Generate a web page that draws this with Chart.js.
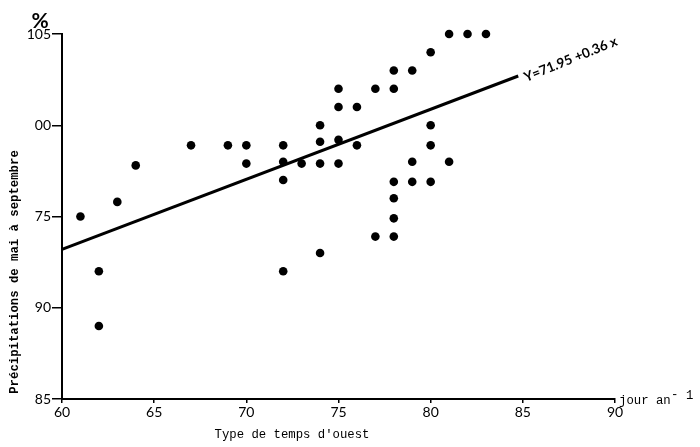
<!DOCTYPE html>
<html>
<head>
<meta charset="utf-8">
<script src="https://cdn.jsdelivr.net/npm/chart.js@4.4.0/dist/chart.umd.min.js"></script>
<style>
  html, body { margin: 0; padding: 0; background: #fff; }
</style>
</head>
<body>
<canvas id="scatterChart" width="700" height="447"></canvas>
<script>
// jours de type de temps d'ouest (x) et précipitations mai-septembre en % (y)
const westDays = [61, 62, 62, 63, 64, 67, 69, 70, 70, 72, 72, 72, 72, 73, 74, 74, 74, 74,
  75, 75, 75, 75, 76, 76, 77, 77, 78, 78, 78, 78, 78, 78, 79, 79, 79, 80, 80, 80, 80, 81, 81, 82, 83];
const rainPct = [95, 92, 89, 95.8, 97.8, 98.9, 98.9, 98.9, 97.9, 98.9, 98, 97, 92, 97.9, 100, 99.1, 97.9, 93,
  102, 101, 99.2, 97.9, 101, 98.9, 102, 93.9, 103, 102, 96.9, 96, 94.9, 93.9, 103, 98, 96.9, 104, 100, 98.9, 96.9, 105, 98, 105, 105];

// droite de régression
const fitX = [60, 84.75];
const fitY = [93.2, 102.7];
const equationText = 'Y=71.95 +0.36 x';

const yTickValues = [85, 90, 95, 100, 105];
const yTickLabels = ['85', '90', '75', '00', '105']; // comme imprimé
const xTickValues = [60, 65, 70, 75, 80, 85, 90];

const monoFont = '"Liberation Mono", "DejaVu Sans Mono", monospace';

const textPlugin = {
  id: 'textPlugin',
  afterDraw(chart) {
    const ctx = chart.ctx;
    const xs = chart.scales.x;
    const ys = chart.scales.y;
    ctx.save();
    ctx.fillStyle = '#000';

    // symbole %
    ctx.font = 'bold 21px Lato, sans-serif';
    ctx.textAlign = 'center';
    ctx.textBaseline = 'alphabetic';
    ctx.fillText('%', 40, 28);

    // titre axe y
    ctx.save();
    ctx.translate(15, 272);
    ctx.rotate(-Math.PI / 2);
    ctx.font = 'bold 12.3px ' + monoFont;
    ctx.textAlign = 'center';
    ctx.textBaseline = 'middle';
    ctx.fillText('Précipitations de mai à septembre', 0, 0);
    ctx.restore();

    // titre axe x
    ctx.font = '12.3px ' + monoFont;
    ctx.textAlign = 'center';
    ctx.textBaseline = 'middle';
    ctx.fillText("Type de temps d'ouest", 292, 435);

    // unité
    ctx.textAlign = 'left';
    ctx.textBaseline = 'alphabetic';
    ctx.fillText('jour an', 619, 404);
    ctx.fillText('-', 671, 398);
    ctx.fillText('1', 686, 399);

    // équation
    const ex = xs.getPixelForValue(fitX[1]);
    const ey = ys.getPixelForValue(fitY[1]);
    ctx.save();
    ctx.translate(ex + 8, ey + 6);
    ctx.rotate(-22 * Math.PI / 180);
    ctx.font = 'bold 13.5px Lato, sans-serif';
    ctx.textAlign = 'left';
    ctx.textBaseline = 'alphabetic';
    ctx.fillText(equationText, 0, 0);
    ctx.restore();

    ctx.restore();
  }
};

new Chart(document.getElementById('scatterChart'), {
  type: 'scatter',
  data: {
    datasets: [
      {
        data: westDays.map((x, i) => ({ x: x, y: rainPct[i] })),
        backgroundColor: '#000',
        borderWidth: 0,
        pointRadius: 4.3,
        clip: false
      },
      {
        type: 'line',
        data: fitX.map((x, i) => ({ x: x, y: fitY[i] })),
        borderColor: '#000',
        borderWidth: 3,
        pointRadius: 0,
        fill: false,
        clip: false
      }
    ]
  },
  options: {
    responsive: false,
    animation: false,
    devicePixelRatio: 1,
    layout: { padding: { top: 34, right: 85, left: 0, bottom: 0 } },
    plugins: {
      legend: { display: false },
      tooltip: { enabled: false }
    },
    scales: {
      x: {
        type: 'linear',
        min: 60,
        max: 90,
        afterBuildTicks: s => { s.ticks = xTickValues.map(v => ({ value: v })); },
        afterFit: s => { s.height = 48; },
        ticks: {
          color: '#000',
          padding: 1,
          maxRotation: 0,
          font: { family: 'Lato', size: 14 }
        },
        grid: { drawOnChartArea: false, tickLength: 4, color: '#000', lineWidth: 1.5 },
        border: { color: '#000', width: 2 }
      },
      y: {
        min: 85,
        max: 105,
        afterBuildTicks: s => { s.ticks = yTickValues.map(v => ({ value: v })); },
        afterFit: s => { s.width = 62; },
        ticks: {
          color: '#000',
          padding: 1,
          font: { family: 'Lato', size: 14 },
          callback: v => yTickLabels[yTickValues.indexOf(v)]
        },
        grid: { drawOnChartArea: false, tickLength: 10, color: '#000', lineWidth: 1.5 },
        border: { color: '#000', width: 2 }
      }
    }
  },
  plugins: [textPlugin]
});
</script>
</body>
</html>
